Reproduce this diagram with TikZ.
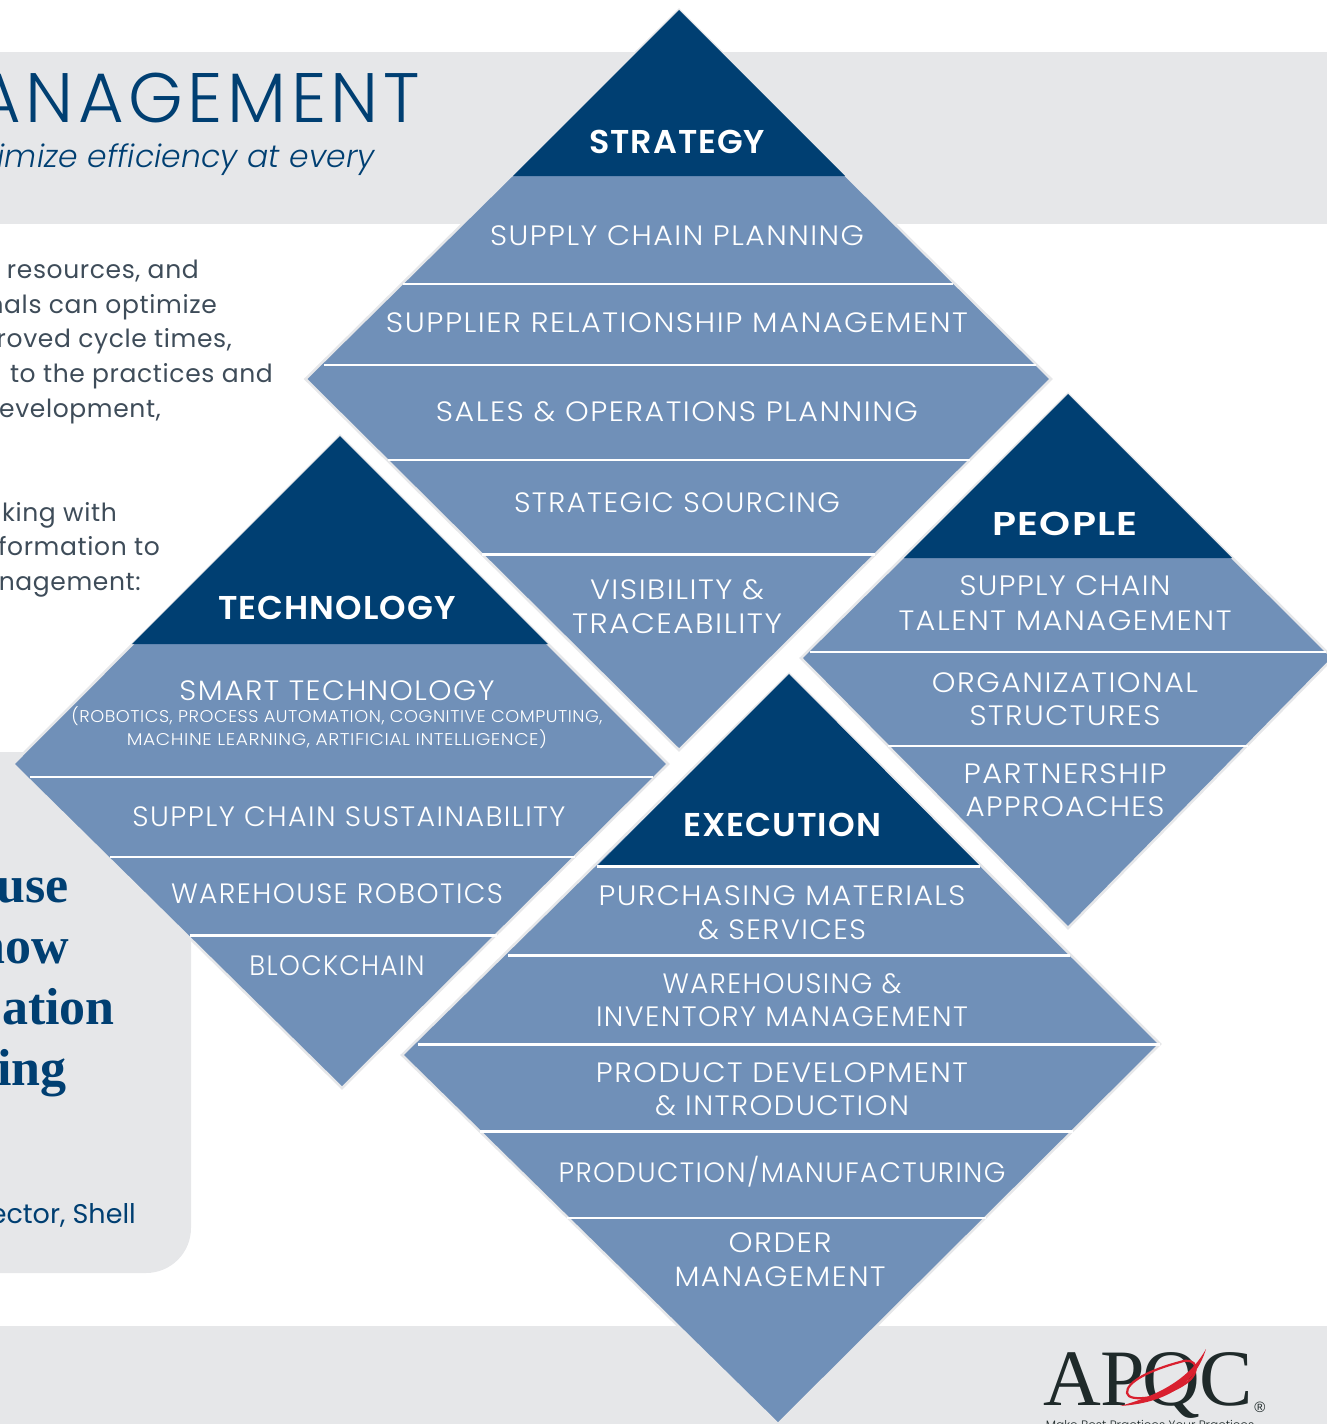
\documentclass[tikz,border=0pt]{standalone}
\usepackage{fontspec}
\usepackage{graphicx}
\setmainfont{Poppins}
\newfontfamily\lightf{Poppins Light}[LetterSpace=5]
\newfontfamily\lightsm{Poppins Light}[LetterSpace=3]
\newfontfamily\lighttitle{Poppins Light}[LetterSpace=6.5]
\newfontfamily\lightit{Poppins Light Italic}[LetterSpace=0.5]
\newfontfamily\lighttag{Poppins Light}
\newfontfamily\regf{Poppins}[LetterSpace=2.5]
\newfontfamily\regplain{Poppins}
\newfontfamily\boldf{Poppins SemiBold}[LetterSpace=3]
\newfontfamily\serifb{Liberation Serif}
\newfontfamily\logof{Liberation Serif}
\newfontfamily\regmark{Liberation Sans}
\newcommand\fitw[2]{\resizebox{#1pt}{\height}{#2}}
\definecolor{band}{HTML}{E6E7E9}
\definecolor{navy}{HTML}{003F72}
\definecolor{mid}{HTML}{7090B8}
\definecolor{bodyc}{HTML}{3E4C59}
\definecolor{inkc}{HTML}{1F2A2A}
\definecolor{redc}{HTML}{D9202F}
\tikzset{
 x=1pt,y=-1pt,
 diam/.style={fill=mid,draw=band,line width=2.5pt,line join=miter},
 headfill/.style={fill=navy},
 sep/.style={draw=white,line width=1.3pt},
 sepb/.style={draw=white,line width=3pt},
 row/.style={text=white,align=center,inner sep=0pt,yshift=-0.8pt,font=\lightf\fontsize{28}{34}\selectfont},
 small/.style={text=white,align=center,inner sep=0pt,font=\lightsm\fontsize{17}{23}\selectfont},
 head/.style={text=white,inner sep=0pt,font=\boldf\fontsize{33}{36}\selectfont},
 body/.style={text=bodyc,anchor=base east,inner sep=0pt,font=\regf\fontsize{25}{30}\selectfont},
 quote/.style={text=navy,anchor=base east,inner sep=0pt,font=\serifb\bfseries\fontsize{52}{56}\selectfont},
}
\begin{document}
\begin{tikzpicture}
\useasboundingbox (0,0) rectangle (1327,1424);
\clip (0,0) rectangle (1327,1424);
% background panels
\fill[band] (0,52) rectangle (1327,224);
\fill[band] (0,1326) rectangle (1327,1424);
\fill[band] (-60,752) -- (191,752) -- (191,1228) arc[start angle=0,end angle=90,radius=45] -- (-60,1273) -- cycle;
% title
\node[text=navy,anchor=base east,inner sep=0pt,font=\lighttitle\fontsize{70}{80}\selectfont] (title) at (420,122) {ANAGEMENT};
\node[text=navy,anchor=base east,inner sep=0pt,font=\lightit\fontsize{31.4}{36}\selectfont] (sub) at (375,167) {timize efficiency at every};
% body
\node[body] (b1) at (199,278) {resources, and};
\node[body] (b2) at (217,313) {nals can optimize};
\node[body] (b3) at (232,347) {roved cycle times,};
\node[body] (b4) at (273,382) {to the practices and};
\node[body] (b5) at (161,417) {evelopment,};
\node[body] (b6) at (117,521) {king with};
\node[body] (b7) at (160,555) {formation to};
\node[body] (b8) at (141,590) {nagement:};
% quote
\node[quote] (q1) at (69,902) {use};
\node[quote] (q2) at (69,963) {now};
\node[quote] (q3) at (115,1024) {ation};
\node[quote] (q4) at (67,1085) {ing};
\node[text=navy,anchor=base east,inner sep=0pt,font=\regplain\fontsize{27}{30}\selectfont] (q5) at (136,1223) {ector, Shell};
% strategy
\draw[diam] (679,10) -- (1051,379) -- (679,750) -- (305.5,379) -- cycle;
\fill[headfill] (679,10) -- (845,176) -- (513,176) -- cycle;
\draw[sep] (403,284) -- (953,284);
\draw[sep] (324,365) -- (1036,365);
\draw[sep] (388,460) -- (970,460);
\draw[sepb] (482,554) -- (875,554);
\node[head] (st) at (677,142) {\fitw{176}{STRATEGY}};
\node[row] (s1) at (677,235) {\fitw{374}{SUPPLY CHAIN PLANNING}};
\node[row] (s2) at (677,322) {\fitw{582}{SUPPLIER RELATIONSHIP MANAGEMENT}};
\node[row] (s3) at (677,411) {\fitw{482}{SALES \& OPERATIONS PLANNING}};
\node[row] (s4) at (677,502) {\fitw{326}{STRATEGIC SOURCING}};
\node[row] (s5) at (677,606) {\fitw{174}{VISIBILITY \&}\\\fitw{210}{TRACEABILITY}};
% technology
\draw[diam] (340,436) -- (668,764) -- (342,1088) -- (13,764) -- cycle;
\fill[headfill] (340,436) -- (548,644) -- (132,644) -- cycle;
\draw[sep] (30,777) -- (653,777);
\draw[sep] (110,857) -- (575,857);
\draw[sepb] (190,935) -- (497,935);
\node[head] (te) at (337,608) {\fitw{237}{TECHNOLOGY}};
\node[row] (t1) at (337,690) {\fitw{315}{SMART TECHNOLOGY}};
\node[small] (t1b) at (337,727.5) {\fitw{531}{(ROBOTICS, PROCESS AUTOMATION, COGNITIVE COMPUTING,}\\\fitw{420}{MACHINE LEARNING, ARTIFICIAL INTELLIGENCE)}};
\node[row] (t2) at (349,816) {\fitw{433}{SUPPLY CHAIN SUSTAINABILITY}};
\node[row] (t3) at (337,893) {\fitw{332}{WAREHOUSE ROBOTICS}};
\node[row] (t4) at (337,965) {\fitw{175}{BLOCKCHAIN}};
% people
\draw[diam] (1068,394) -- (1333,658) -- (1068,928) -- (801,658) -- cycle;
\fill[headfill] (1068,394) -- (1232,558) -- (904,558) -- cycle;
\draw[sep] (810,652) -- (1326,652);
\draw[sep] (888,746) -- (1248,746);
\node[head] (pe) at (1065,524) {\fitw{145}{PEOPLE}};
\node[row] (p1) at (1065,602.5) {\fitw{211}{SUPPLY CHAIN}\\[1pt]\fitw{333}{TALENT MANAGEMENT}};
\node[row] (p2) at (1065,698.5) {\fitw{266}{ORGANIZATIONAL}\\[-1pt]\fitw{191}{STRUCTURES}};
\node[row] (p3) at (1065,789.5) {\fitw{203}{PARTNERSHIP}\\[-1pt]\fitw{199}{APPROACHES}};
% execution
\draw[diam] (789,674) -- (1160,1044) -- (778,1424) -- (402,1055) -- cycle;
\fill[headfill] (789,674) -- (980,866) -- (597,866) -- cycle;
\draw[sepb] (597,866) -- (980,866);
\draw[sepb] (508,955) -- (1070,955);
\draw[sepb] (418,1044) -- (1160,1044);
\draw[sepb] (480,1131) -- (1073,1131);
\draw[sep] (567,1218) -- (986,1218);
\node[head] (ex) at (782,825) {\fitw{198}{EXECUTION}};
\node[row] (e1) at (782,912) {\fitw{367}{PURCHASING MATERIALS}\\\fitw{168}{\& SERVICES}};
\node[row] (e2) at (782,999.5) {\fitw{239}{WAREHOUSING \&}\\[-1pt]\fitw{372}{INVENTORY MANAGEMENT}};
\node[row] (e3) at (782,1088.5) {\fitw{372}{PRODUCT DEVELOPMENT}\\[-1pt]\fitw{254}{\& INTRODUCTION}};
\node[row] (e4) at (782,1171) {\fitw{447}{PRODUCTION/MANUFACTURING}};
\node[row] (e5) at (780,1259) {\fitw{103}{ORDER}\\\fitw{211}{MANAGEMENT}};
% logo
\node[text=inkc,anchor=base west,inner sep=0pt,font=\logof\fontsize{80}{80}\selectfont] (logo) at (1043,1405) {AP\kern-3pt Q\kern-1pt C};
\fill[redc] (1120,1406) .. controls (1165,1403) and (1195,1385) .. (1206,1349) .. controls (1190,1378) and (1160,1395) .. (1120,1406) -- cycle;
\draw[redc,line width=2.2pt] (1180,1362) .. controls (1197,1356) and (1202,1372) .. (1186,1383) .. controls (1165,1398) and (1128,1403) .. (1127,1393) .. controls (1126,1382) and (1150,1370) .. (1180,1362);
\node[text=inkc,inner sep=0pt,font=\regmark\fontsize{15}{15}\selectfont] (reg) at (1260,1407) {®};
\node[text=inkc,anchor=base,inner sep=0pt,font=\lighttag\fontsize{12.2}{15}\selectfont] (tag) at (1150,1429) {Make Best Practices Your Practices};
\end{tikzpicture}
\end{document}
